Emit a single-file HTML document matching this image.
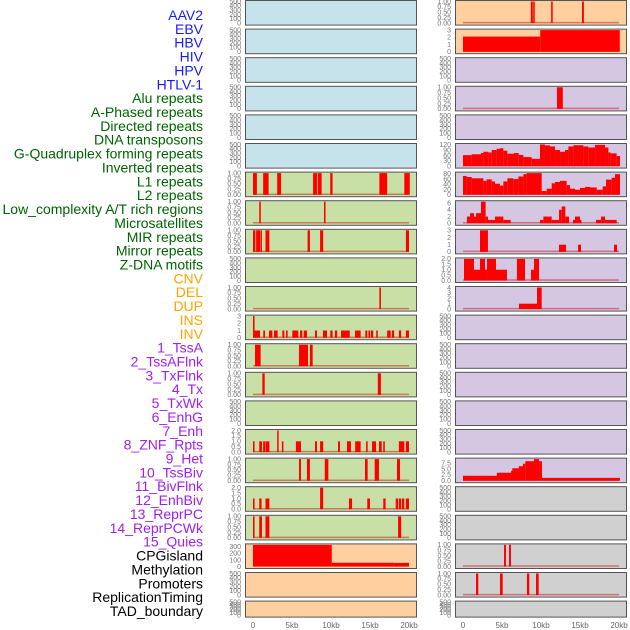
<!DOCTYPE html>
<html><head><meta charset="utf-8"><style>
html,body{margin:0;padding:0;background:#fff;}
svg{display:block;font-family:"Liberation Sans",sans-serif;}
</style></head><body>
<svg id="chart" width="630" height="630" viewBox="0 0 630 630" xmlns="http://www.w3.org/2000/svg"></svg>
<script>
// ---- data ----
const labels = ["AAV2","EBV","HBV","HIV","HPV","HTLV-1","Alu repeats","A-Phased repeats","Directed repeats","DNA transposons","G-Quadruplex forming repeats","Inverted repeats","L1 repeats","L2 repeats","Low_complexity A/T rich regions","Microsatellites","MIR repeats","Mirror repeats","Z-DNA motifs","CNV","DEL","DUP","INS","INV","1_TssA","2_TssAFlnk","3_TxFlnk","4_Tx","5_TxWk","6_EnhG","7_Enh","8_ZNF_Rpts","9_Het","10_TssBiv","11_BivFlnk","12_EnhBiv","13_ReprPC","14_ReprPCWk","15_Quies","CPGisland","Methylation","Promoters","ReplicationTiming","TAD_boundary"];
const labelGroups = [0,0,0,0,0,0,1,1,1,1,1,1,1,1,1,1,1,1,1,2,2,2,2,2,3,3,3,3,3,3,3,3,3,3,3,3,3,3,3,4,4,4,4,4];
const groupColors = ["#1a1aff","#006400","#ffa500","#a020f0","#000000"];
const bgColors = ["#c6e3eb","#c8e0a5","#fecf9f","#d5c6e2","#d0d0d0"];
const xTicks = [0,5,10,15,20];
const xTickLabels = ["0","5kb","10kb","15kb","20kb"];

const ticksEmpty = [0,100,200,300,400,500];
const ticksUnit = [0,0.25,0.5,0.75,1];
const ticks3 = [0,1,2,3];
const ticks2 = [0,0.5,1,1.5,2];

// segments: [startKb, endKb, value]
const alu = [[0,0.5,1],[1.3,2.0,1],[3.1,3.6,1],[7.7,8.2,1],[8.3,8.8,1],[9.9,10.2,1],[16.2,17.2,1],[19.4,20.1,1]];
const aphased = [[0.8,1.0,1],[9.1,9.3,1]];
const directed = [[0,0.3,1],[0.4,0.9,1],[0.95,1.1,1],[1.6,2.1,1],[7.0,7.3,1],[8.6,9.0,1],[19.6,20.0,1]];
const gquad = [[16.2,16.4,1]];
const inverted = [[0,0.2,3],[0.2,0.9,1],[1.32,1.54,1],[2.05,2.48,1],[2.69,3.16,1],[3.76,4.02,1],[4.23,4.44,1],[5.04,5.81,1],[6.03,6.32,1],[6.5,6.92,1],[7.95,8.2,1],[8.97,9.49,1],[9.91,10.2,1],[10.5,10.8,1],[11.28,12.4,1],[13.08,13.8,1],[14.4,14.65,1],[14.8,15.0,1],[15.1,15.4,1],[15.8,16.0,1],[17.2,17.65,1],[17.8,18.1,1],[18.7,19.0,1],[19.6,20.0,1]];
const l1 = [[0.26,0.98,1],[5.9,7.05,1],[7.3,7.65,1]];
const l2 = [[1.2,1.5,1],[16.0,16.4,1]];
const micro = [[0,0.2,1],[0.8,1.15,1],[1.3,1.54,1],[1.6,2.1,1],[3.1,3.25,2],[3.7,3.9,1],[5.5,6.15,1],[7.95,8.2,1],[8.6,9.0,1],[10.9,11.15,1],[12.05,12.56,1],[13.1,13.8,1],[14.5,14.7,1],[15.26,15.77,1],[16.15,16.5,1],[16.7,16.9,1],[18.7,19.4,1],[19.6,20.0,1]];
const mir = [[5.9,6.15,1],[6.92,7.3,1],[9.2,9.66,1],[14.36,14.7,1],[15.6,16.15,1],[18.46,18.85,1]];
const mirror = [[0,0.2,1],[0.8,1.1,1],[1.6,2.1,1],[8.6,9.0,2],[12.3,12.7,1],[14.65,15.0,1],[16.7,17.0,1],[18.3,18.6,1],[18.7,19.0,1],[19.1,19.4,1],[19.6,20.0,1]];
const zdna = [[0,0.2,1],[0.8,1.15,1],[1.6,2.1,1],[18.6,19.0,1]];
const cnv = [[0,10.1,330],[10.1,18.0,57],[18.0,20.0,55]];
const ins = [[8.7,8.95,1],[9.0,9.2,1],[11.3,11.5,1],[15.26,15.5,1]];
const inv = [[0,9.9,2.1],[9.9,20.1,3]];
const tssaflnk = [[12.05,12.8,1]];
const tx = [[0,1.11,62],[1.11,2.31,67],[2.31,2.61,74],[2.61,3.25,81],[3.25,3.68,77],[3.68,4.32,91],[4.32,4.74,98],[4.74,5.17,101],[5.17,5.69,87],[5.69,6.54,70],[6.54,7.14,74],[7.14,7.74,63],[7.74,8.81,51],[8.81,9.87,41],[9.87,10.51,122],[10.51,11.16,117],[11.16,11.8,111],[11.8,12.44,91],[12.44,13.08,81],[13.08,13.51,91],[13.51,14.15,111],[14.15,15.43,118],[15.43,16.07,111],[16.07,16.93,105],[16.93,18.21,120],[18.21,18.64,105],[18.64,18.93,77],[18.93,19.7,72],[19.7,20.13,57]];
const txwk = [[0,0.47,72],[0.47,1.11,68],[1.11,2.61,63],[2.61,3.03,53],[3.03,3.68,59],[3.68,4.1,51],[4.1,4.74,42],[4.74,5.17,35],[5.17,5.69,51],[5.69,6.45,63],[6.45,7.1,60],[7.1,7.74,70],[7.74,8.16,79],[8.16,10.09,83],[10.09,10.73,14],[10.73,11.37,23],[11.37,11.8,44],[11.8,12.44,49],[12.44,13.29,53],[13.29,13.72,37],[13.72,14.36,23],[14.36,15.0,19],[15.0,15.64,26],[15.64,16.28,30],[16.28,17.14,28],[17.14,17.91,19],[17.91,18.34,32],[18.34,19.06,58],[19.06,19.49,65],[19.49,20.13,79]];
const enhg = [[0.51,0.9,2],[0.9,1.41,3],[1.41,1.67,2],[1.67,2.31,3],[2.31,2.9,6.4],[2.9,3.2,2],[3.2,4.1,1],[4.1,5.17,2],[5.17,6.11,1],[9.87,10.3,1],[10.3,11.37,2],[11.37,12.31,1],[12.31,12.65,4],[12.65,13.12,5],[13.12,13.59,2],[14.1,14.36,1],[14.36,15.0,2],[15.0,15.13,1],[17.05,17.7,1],[17.7,18.21,2],[18.21,19.7,1]];
const enh = [[2.18,3.2,3],[12.31,13.21,1],[14.75,15.13,1],[19.36,19.75,1]];
const znf = [[0.13,1.41,2],[1.41,2.18,1],[2.18,2.82,2],[2.82,3.08,1],[3.08,4.23,2],[4.23,5.64,1],[6.92,7.95,2],[8.72,9.1,1],[9.1,9.75,2]];
const het = [[7.18,9.49,1],[9.49,10.09,4]];
const quies = [[0,4.36,2.1],[4.36,6.15,3.4],[6.15,6.32,4.2],[6.32,7.18,5.3],[7.18,7.69,6.2],[7.69,7.99,7.2],[7.99,9.1,8.3],[9.1,9.75,9.2],[9.75,10.13,8.3],[10.13,20.13,1.2]];
const cpg = [[5.26,5.51,1],[5.9,6.15,1]];
const methyl = [[1.67,1.96,1],[4.74,5.09,1],[8.2,8.5,1],[9.36,9.7,1]];

// track spec: [column,row,bgGroup,segments,max,ticks]
const tracks = [
 [0,0,0,null,500,ticksEmpty],[0,1,0,null,500,ticksEmpty],[0,2,0,null,500,ticksEmpty],[0,3,0,null,500,ticksEmpty],[0,4,0,null,500,ticksEmpty],[0,5,0,null,500,ticksEmpty],
 [0,6,1,alu,1,ticksUnit],[0,7,1,aphased,1,ticksUnit],[0,8,1,directed,1,ticksUnit],[0,9,1,null,500,ticksEmpty],[0,10,1,gquad,1,ticksUnit],
 [0,11,1,inverted,3,ticks3],[0,12,1,l1,1,ticksUnit],[0,13,1,l2,1,ticksUnit],[0,14,1,null,500,ticksEmpty],[0,15,1,micro,2,ticks2],
 [0,16,1,mir,1,ticksUnit],[0,17,1,mirror,2,ticks2],[0,18,1,zdna,1,ticksUnit],[0,19,2,cnv,330,[0,100,200,300]],[0,20,2,null,500,ticksEmpty],[0,21,2,null,500,ticksEmpty],
 [1,0,2,ins,1,ticksUnit],[1,1,2,inv,3,ticks3],[1,2,3,null,500,ticksEmpty],[1,3,3,tssaflnk,1,ticksUnit],[1,4,3,null,500,ticksEmpty],
 [1,5,3,tx,122,[0,30,60,90,120]],[1,6,3,txwk,83,[0,20,40,60,80]],[1,7,3,enhg,6.4,[0,2,4,6]],[1,8,3,enh,3,ticks3],[1,9,3,znf,2,ticks2],
 [1,10,3,het,4,[0,1,2,3,4]],[1,11,3,null,500,ticksEmpty],[1,12,3,null,500,ticksEmpty],[1,13,3,null,500,ticksEmpty],[1,14,3,null,500,ticksEmpty],[1,15,3,null,500,ticksEmpty],
 [1,16,3,quies,9.2,[0,2.5,5,7.5]],[1,17,4,null,500,ticksEmpty],[1,18,4,null,500,ticksEmpty],[1,19,4,cpg,1,ticksUnit],[1,20,4,methyl,1,ticksUnit],[1,21,4,null,500,ticksEmpty]
];

// ---- drawing ----
const NS = "http://www.w3.org/2000/svg";
const svg = document.getElementById("chart");
function mk(tag, attrs, parent){ const e=document.createElementNS(NS,tag); for(const k in attrs) e.setAttribute(k,attrs[k]); (parent||svg).appendChild(e); return e; }
const colX = [245, 455];
const panelW = 171;
function xScale(col, kb){ return colX[col] + 8 + kb/20*156; }
function rowTop(r){ return r*28.6; }
function rowH(r){ return r===21 ? 16 : 24.6; }
function fmt(v, ticks){
  const step = ticks[1]-ticks[0];
  if (step===0.25) return v.toFixed(2);
  if (step===0.5 || step===2.5) return v.toFixed(1);
  return String(v);
}

labels.forEach((t,i)=>{
  const e = mk("text",{x:203,y:20+i*13.86,"text-anchor":"end","font-size":"14",fill:groupColors[labelGroups[i]]});
  e.textContent = t;
  
  
});

tracks.forEach(tr=>{
  const [col,row,bg,segs,max,ticks] = tr;
  const top = rowTop(row), h = rowH(row), x0 = colX[col];
  const g = mk("g",{});
  
  
  const rect = mk("rect",{x:x0+0.5,y:top+0.5,width:panelW,height:h,fill:bgColors[bg],stroke:"#555","stroke-width":1},g);
  
  
  const yb = top + h - 1.5, ytop = top + 1.5;
  const yScale = v => yb - v/max*(yb-ytop);
  ticks.forEach(tv=>{
    const t = mk("text",{x:x0-4,y:yScale(tv)+2.3,"text-anchor":"end","font-size":"7",fill:"#777"},g);
    t.textContent = fmt(tv,ticks);
    
    
  });
  if (segs){
    const bl = mk("line",{x1:xScale(col,0),x2:xScale(col,20),y1:yb-0.5,y2:yb-0.5,stroke:"rgba(200,0,0,0.45)","stroke-width":1.5},g);
    
    
    segs.forEach(s=>{
      const xa = xScale(col,s[0]), xe = xScale(col,s[1]), yv = yScale(s[2]);
      const b = mk("rect",{x:xa,y:yv,width:Math.max(xe-xa,1.5),height:yb-yv,fill:"#ff0000"},g);
      
      
    });
  }
});

[0,1].forEach(col=>{
  xTicks.forEach((v,i)=>{
    const t = mk("text",{x:xScale(col,v),y:628,"text-anchor":"middle","font-size":"8",fill:"#666"});
    t.textContent = xTickLabels[i];
    
    
  });
});
</script>
</body></html>
